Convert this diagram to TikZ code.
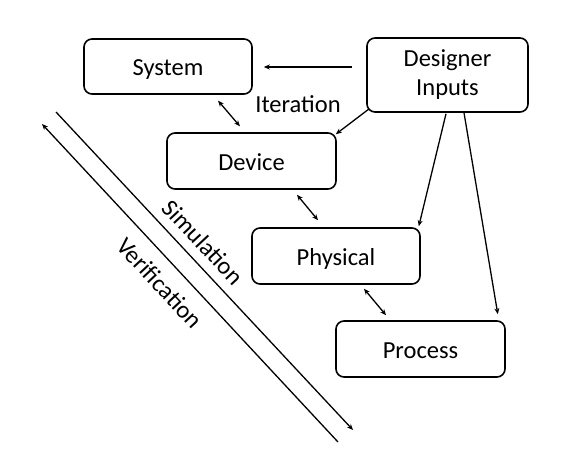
\documentclass[tikz,border=0pt]{standalone}
\usepackage{fontspec}
\setmainfont{Carlito}
\usetikzlibrary{arrows.meta}
\begin{document}
\begin{tikzpicture}[x=1pt,y=-1pt,
  box/.style={draw,line width=1.6pt,rounded corners=8pt,align=center,inner sep=0pt},
  one/.style={text height=18pt,text depth=0pt},
  lbl/.style={font=\fontsize{24.5}{29}\selectfont},
  conn/.style={line width=1.3pt,-{Stealth[length=6pt,width=5pt]}},
  dconn/.style={line width=1.3pt,{Stealth[length=6pt,width=5pt]}-{Stealth[length=6pt,width=5pt]}}]
\useasboundingbox (0,0) rectangle (584,463);
\node[box,lbl,one,minimum width=168pt,minimum height=55pt] (system) at (168,66.5) {System};
\node[box,lbl,minimum width=161pt,minimum height=74pt] (designer) at (447.5,75) {Designer\\Inputs};
\node[box,lbl,one,minimum width=169pt,minimum height=56pt] (device) at (251.5,161) {Device};
\node[box,lbl,one,minimum width=168pt,minimum height=56pt] (physical) at (336,256) {Physical};
\node[box,lbl,one,minimum width=169pt,minimum height=56pt] (process) at (420.5,349) {Process};
\node[lbl] (iter) at (298,104) {Iteration};
\draw[conn] ([xshift=-14pt]designer.west |- 0,67) -- ([xshift=11pt]system.east |- 0,67);
\draw[dconn,shorten <=7.8pt,shorten >=7.8pt] ([xshift=45pt]system.south) -- ([xshift=-6.5pt]device.north);
\draw[conn] ([xshift=3pt,yshift=4pt]designer.south west) -- ([xshift=-1pt,yshift=-2pt]device.north east);
\draw[conn] ([xshift=-1.5pt,yshift=-1pt]designer.south) -- ([xshift=-2pt,yshift=1pt]physical.north east);
\draw[conn] ([xshift=16.5pt]designer.south) -- ([xshift=-8pt,yshift=6pt]process.north east);
\draw[dconn] ([xshift=45.5pt,yshift=-5pt]device.south) -- ([xshift=-18pt,yshift=7pt]physical.north);
\draw[dconn] ([xshift=28pt,yshift=-4pt]physical.south) -- ([xshift=-34.5pt,yshift=5pt]process.north);
\coordinate (s1) at (56,112);
\coordinate (s2) at (353,430);
\coordinate (v1) at (42,124);
\coordinate (v2) at (338,442);
\draw[conn] (s1) -- (s2);
\draw[conn] (v2) -- (v1);
\node[lbl,rotate=-47] (sim) at (203,242) {Simulation};
\node[lbl,rotate=-47] (ver) at (160,283) {Verification};
\end{tikzpicture}
\end{document}
